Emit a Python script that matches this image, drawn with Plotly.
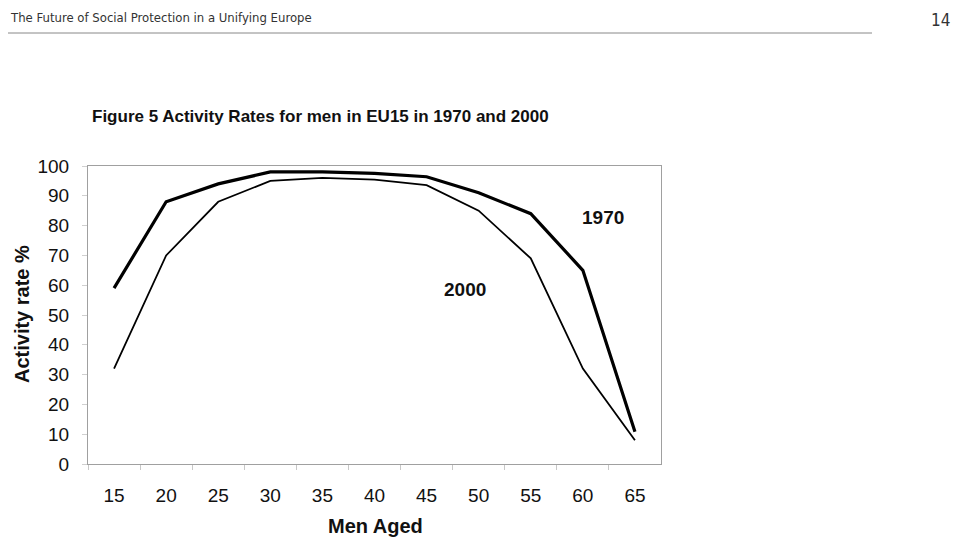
import plotly.graph_objects as go

ages = ["15", "20", "25", "30", "35", "40", "45", "50", "55", "60", "65"]
rate_1970 = [59, 88, 94, 98, 98, 97.5, 96.4, 91, 84, 65, 10.8]
rate_2000 = [32, 70, 88, 95, 96, 95.4, 93.6, 85, 69, 32, 8]

W, H = 960, 538
OFF = 8  # page body margin offset
def py(y):  # target pixel-from-top to paper
    return 1 - (y - OFF) / H
def px(x):
    return (x - OFF) / W

fig = go.Figure()
fig.add_trace(go.Scatter(x=ages, y=rate_1970, mode="lines",
                         line=dict(color="black", width=3.2), name="1970"))
fig.add_trace(go.Scatter(x=ages, y=rate_2000, mode="lines",
                         line=dict(color="black", width=1.8), name="2000"))

axfont = dict(family="Arial, Liberation Sans, sans-serif", size=19, color="#111")
fig.update_layout(
    width=W, height=H, margin=dict(l=0, r=0, t=0, b=0, pad=0, autoexpand=False),
    paper_bgcolor="white", plot_bgcolor="white", showlegend=False,
    xaxis=dict(type="category", domain=[px(88), px(661)], range=[-0.5, 10.5],
               showline=True, linecolor="#a0a0a0", linewidth=1, mirror=True,
               ticks="outside", tickson="boundaries", ticklen=5, tickcolor="#c8c8c8",
               showgrid=False, zeroline=False, tickfont=axfont, ticklabelstandoff=14,
               automargin=False),
    yaxis=dict(domain=[py(464), py(166)], range=[0, 100], dtick=10,
               showline=True, linecolor="#a0a0a0", linewidth=1, mirror=True,
               ticks="outside", ticklen=5, tickcolor="#d0d0d0",
               showgrid=False, zeroline=False, tickfont=axfont,
               ticklabelstandoff=9, automargin=False),
)

annots = [
    dict(text="<b>Figure 5 Activity Rates for men in EU15 in 1970 and 2000</b>",
         x=px(90), y=py(117), xanchor="left", yanchor="middle",
         font=dict(family="Arial, Liberation Sans", size=17, color="#111")),
    dict(text="<b>Activity rate %</b>", x=px(22), y=py(314), textangle=-90,
         xanchor="center", yanchor="middle",
         font=dict(family="Arial, Liberation Sans", size=20, color="#111")),
    dict(text="<b>Men Aged</b>", x=px(375), y=py(526), xanchor="center", yanchor="middle",
         font=dict(family="Arial, Liberation Sans", size=20, color="#111")),
    dict(text="<b>1970</b>", x=px(603), y=py(217), xanchor="center", yanchor="middle",
         font=dict(family="Arial, Liberation Sans", size=19, color="#111")),
    dict(text="<b>2000</b>", x=px(465), y=py(289), xanchor="center", yanchor="middle",
         font=dict(family="Arial, Liberation Sans", size=19, color="#111")),
    dict(text="The Future of Social Protection in a Unifying Europe", x=px(8), y=py(8),
         xanchor="left", yanchor="top",
         font=dict(family="DejaVu Sans Condensed, sans-serif", size=13, color="#333")),
    dict(text="14", x=px(952), y=py(8), xanchor="right", yanchor="top",
         font=dict(family="DejaVu Sans Condensed, sans-serif", size=17, color="#333")),
]
for a in annots:
    a.update(xref="paper", yref="paper", showarrow=False)
fig.update_layout(annotations=annots)
fig.add_shape(type="line", xref="paper", yref="paper", x0=px(8), x1=px(872), y0=py(33), y1=py(33),
              line=dict(color="#888", width=1))

fig.write_html("out.html")
